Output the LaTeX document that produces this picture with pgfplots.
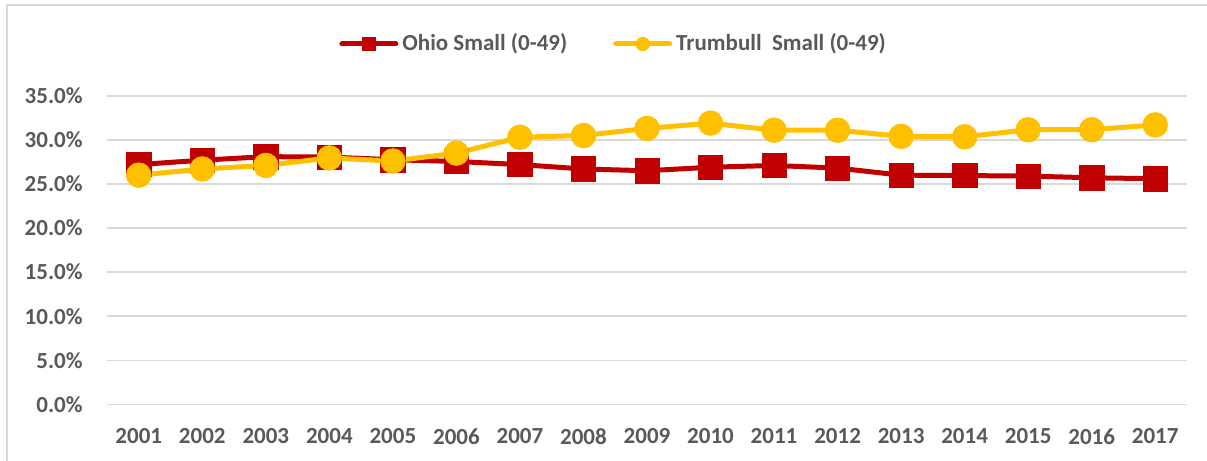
\documentclass[border=0pt]{standalone}
\usepackage{fontspec}
\setmainfont{Carlito}
\usepackage{pgfplots}
\pgfplotsset{compat=1.18}
\definecolor{ored}{HTML}{C00000}
\definecolor{tyel}{HTML}{FFC000}
\definecolor{gridc}{HTML}{D9D9D9}
\definecolor{txt}{HTML}{595959}
\begin{document}
\begin{tikzpicture}
\path[use as bounding box] (0pt,0pt) rectangle (603.5pt,230.5pt);
\draw[gridc, line width=0.7pt] (3.5pt,0pt) -- (3.5pt,228pt) -- (603.5pt,228pt);
\begin{axis}[
  at={(53.5pt,28.3pt)}, anchor=south west,
  scale only axis, width=540pt, height=154.3pt,
  xmin=-0.5, xmax=16.5, ymin=0, ymax=35,
  clip=false,
  axis line style={draw=none},
  major tick length=0pt,
  ytick={0,5,...,35},
  yticklabel={\pgfmathprintnumber[fixed,fixed zerofill,precision=1,assume math mode=true]{\tick}\%},
  xtick={0,...,16},
  xticklabels={2001,2002,2003,2004,2005,2006,2007,2008,2009,2010,2011,2012,2013,2014,2015,2016,2017},
  ymajorgrids, grid style={gridc, line width=0.8pt},
  every tick label/.append style={inner sep=0pt, font=\bfseries\fontsize{11.5}{13}\selectfont, text=txt},
  yticklabel shift=12pt, xticklabel shift=11.8pt,
  legend style={draw=none, fill=none, at={(0.47,1.168)}, anchor=center,
    font=\bfseries\fontsize{11.5}{13}\selectfont, text=txt,
    /tikz/every even column/.append style={column sep=21pt}},
  legend columns=2,
  legend image code/.code={\draw[#1, mark size=3.4pt, mark repeat=2, mark phase=2, line cap=round] plot coordinates {(0pt,0pt) (13.5pt,0pt) (27pt,0pt)};},
]
\addplot[color=ored, line width=2.5pt, mark=square*, mark size=6.1pt, mark options={solid, line width=0.3pt}]
coordinates {(0,27.2) (1,27.7) (2,28.1) (3,28.05) (4,27.75) (5,27.55) (6,27.2) (7,26.7) (8,26.5) (9,26.9) (10,27.1) (11,26.8) (12,26.0) (13,25.95) (14,25.9) (15,25.7) (16,25.6)};
\addlegendentry{Ohio Small (0-49)}
\addplot[color=tyel, line width=2.5pt, mark=*, mark size=6.2pt, mark options={solid, line width=0.3pt}]
coordinates {(0,26.0) (1,26.7) (2,27.1) (3,27.95) (4,27.6) (5,28.5) (6,30.3) (7,30.5) (8,31.3) (9,31.9) (10,31.1) (11,31.1) (12,30.4) (13,30.35) (14,31.15) (15,31.15) (16,31.7)};
\addlegendentry{Trumbull\ \ Small (0-49)}
\end{axis}
\end{tikzpicture}
\end{document}
